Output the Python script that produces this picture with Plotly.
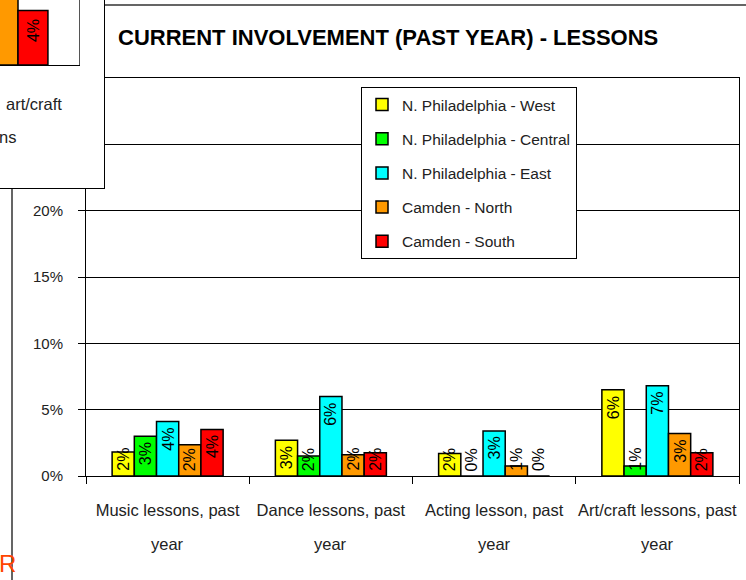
import plotly.graph_objects as go

# ---------------- data ----------------
categories = ["Music lessons, past year", "Dance lessons, past year",
              "Acting lesson, past year", "Art/craft lessons, past year"]
series_names = ["N. Philadelphia - West", "N. Philadelphia - Central",
                "N. Philadelphia - East", "Camden - North", "Camden - South"]
west = [1.8, 2.7, 1.7, 6.5]
central = [3.0, 1.5, 0.0, 0.75]
east = [4.1, 6.0, 3.4, 6.8]
north = [2.35, 1.6, 0.75, 3.2]
south = [3.5, 1.75, 0.0, 1.75]
series_values = [west, central, east, north, south]
bar_labels = [["2%", "3%", "2%", "6%"],
              ["3%", "2%", "0%", "1%"],
              ["4%", "6%", "3%", "7%"],
              ["2%", "2%", "1%", "3%"],
              ["4%", "2%", "0%", "2%"]]
y_tick_values = [0, 5, 10, 15, 20, 25, 30]
y_tick_labels = ["0%", "5%", "10%", "15%", "20%", "25%", "30%"]
title_text = "CURRENT INVOLVEMENT (PAST YEAR) - LESSONS"

# fragment of the neighbouring chart (top-left corner)
frag_category = ["art/craft lessons"]
frag_names = ["Camden - North", "Camden - South"]
frag_values = [[6.0], [4.1]]
frag_labels = ["4%"]

# ---------------- styles ----------------
colors = ["#FFFF00", "#00FF00", "#00FFFF", "#FF9900", "#FF0000"]
W, H = 746, 580
PL, PR, PT, PB = 86, 739, 78, 476          # main plot area in px
SANS = "Liberation Sans, Arial, sans-serif"
TXT = "#222222"
BARGAP = 0.32
Y_MAX = 30

def fx(p):
    return p / W

def fy(p):
    return 1 - p / H

fig = go.Figure()

# main bars
for name, vals, col in zip(series_names, series_values, colors):
    fig.add_trace(go.Bar(
        x=categories, y=vals, name=name, legendgroup=name,
        marker=dict(color=col, line=dict(color="black", width=1.5)),
        xaxis="x", yaxis="y", hoverinfo="skip"))

# white panel of the overlapping chart
fig.add_trace(go.Bar(x=[0], y=[1], width=[1], marker=dict(color="white", line=dict(width=0)),
                     xaxis="x2", yaxis="y2", showlegend=False, hoverinfo="skip"))

# fragment bars
for name, vals, col in zip(frag_names, frag_values, colors[3:]):
    fig.add_trace(go.Bar(x=frag_category, y=vals, name=name, showlegend=False,
                         marker=dict(color=col, line=dict(color="black", width=1.5)),
                         xaxis="x3", yaxis="y3", hoverinfo="skip"))

annotations = []
# bar value labels
px_per_unit = (PB - PT) / Y_MAX
cat_px = (PR - PL) / len(categories)
bar_px = cat_px * (1 - BARGAP) / len(series_names)
min_label_val = 34 / px_per_unit
for i, labs in enumerate(bar_labels):
    for j, cat in enumerate(categories):
        annotations.append(dict(
            x=cat, y=max(series_values[i][j], min_label_val), xref="x", yref="y",
            text=labs[j], textangle=-90, showarrow=False,
            xanchor="center", yanchor="top", yshift=-4,
            xshift=(i - (len(series_names) - 1) / 2) * bar_px,
            font=dict(family=SANS, size=16, color="black")))

# second line of the category labels
for cat in categories:
    annotations.append(dict(
        x=cat, y=0, xref="x", yref="y", text=cat.rsplit(" ", 1)[1],
        showarrow=False, xanchor="center", yanchor="middle", yshift=-68,
        font=dict(family=SANS, size=16.5, color=TXT)))

# fragment texts
annotations.append(dict(x=frag_category[0], y=frag_values[1][0], xref="x3", yref="y3",
                        text=frag_labels[0], textangle=-90, showarrow=False,
                        xanchor="center", yanchor="top", yshift=-7, xshift=15,
                        font=dict(family=SANS, size=16, color="black")))
annotations.append(dict(x=fx(64), y=fy(104), xref="paper", yref="paper", text="art/craft",
                        showarrow=False, xanchor="right", yanchor="middle",
                        font=dict(family=SANS, size=16.5, color=TXT)))
annotations.append(dict(x=fx(18), y=fy(137), xref="paper", yref="paper", text="ns",
                        showarrow=False, xanchor="right", yanchor="middle",
                        font=dict(family=SANS, size=16.5, color=TXT)))
annotations.append(dict(x=fx(-3), y=fy(563), xref="paper", yref="paper", text="R",
                        showarrow=False, xanchor="left", yanchor="middle",
                        font=dict(family=SANS, size=24, color="#FF4500")))

shapes = [dict(type="rect", xref="paper", yref="paper", layer="below",
               x0=fx(12), x1=fx(760), y0=fy(600), y1=fy(5),
               line=dict(color="#333333", width=1.5), fillcolor="rgba(0,0,0,0)")]

fig.update_layout(
    width=W, height=H, autosize=False,
    margin=dict(l=0, r=0, t=0, b=0, pad=0, autoexpand=False),
    paper_bgcolor="white", plot_bgcolor="white",
    barmode="group", bargap=BARGAP, bargroupgap=0,
    title=dict(text=title_text, x=fx(118), xanchor="left", xref="paper",
               y=fy(37), yanchor="middle", yref="paper",
               font=dict(family=SANS, size=22, color="black", weight="bold")),
    xaxis=dict(domain=[fx(PL), fx(PR)], anchor="y", type="category", automargin=False,
               tickmode="array", tickvals=categories, tickangle=0,
               ticktext=[c.rsplit(" ", 1)[0] for c in categories],
               tickson="boundaries", ticks="outside", ticklen=7, tickcolor="black",
               showline=True, linecolor="black", linewidth=1, mirror=True,
               showgrid=False, ticklabelstandoff=19,
               tickfont=dict(family=SANS, size=16.5, color=TXT)),
    yaxis=dict(domain=[fy(PB), fy(PT)], anchor="x", range=[0, Y_MAX], automargin=False,
               tickmode="array", tickvals=y_tick_values, ticktext=y_tick_labels,
               ticks="outside", ticklen=7, tickcolor="black",
               showline=True, linecolor="black", linewidth=1, mirror=True,
               showgrid=True, gridcolor="black", gridwidth=1, zeroline=False,
               ticklabelstandoff=12,
               tickfont=dict(family=SANS, size=15, color=TXT)),
    xaxis2=dict(domain=[0, fx(104)], anchor="y2", range=[-0.5, 0.5], automargin=False,
                showline=True, linecolor="black", linewidth=1, showgrid=False,
                showticklabels=False, ticks="", zeroline=False, fixedrange=True),
    yaxis2=dict(domain=[fy(188), 1], anchor="x2", range=[0, 1], side="right", automargin=False,
                showline=True, linecolor="black", linewidth=1, showgrid=False,
                showticklabels=False, ticks="", zeroline=False, fixedrange=True),
    xaxis3=dict(domain=[0, fx(79)], anchor="y3", type="category", automargin=False,
                range=[-0.2045, 0.693], showline=True, linecolor="black", linewidth=1,
                showgrid=False, showticklabels=False, ticks=""),
    yaxis3=dict(domain=[fy(65), 1], anchor="x3", range=[0, 65 / px_per_unit], automargin=False,
                side="right", showline=True, linecolor="#555555", linewidth=1,
                showgrid=False, showticklabels=False, ticks="", zeroline=False),
    legend=dict(x=fx(361), y=fy(87), xref="paper", yref="paper",
                xanchor="left", yanchor="top", bgcolor="white",
                bordercolor="black", borderwidth=1, tracegroupgap=11,
                font=dict(family=SANS, size=15.5, color=TXT)),
    annotations=annotations, shapes=shapes,
    showlegend=True,
)

fig.write_html("out.html", config={"displayModeBar": False},
               post_script="document.body.style.margin='0';document.body.style.overflow='hidden';")
